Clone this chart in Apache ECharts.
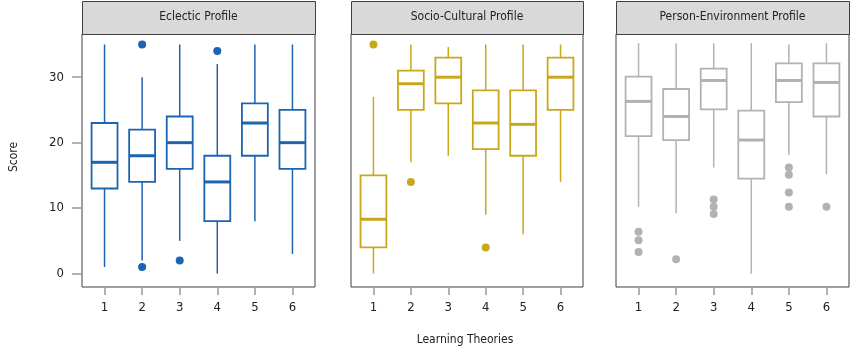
<!DOCTYPE html>
<html>
<head>
<meta charset="utf-8">
<script src="https://cdn.jsdelivr.net/npm/echarts@6/dist/echarts.min.js"></script>
<style>
  html, body { margin: 0; padding: 0; background: #fff; }
  #main { width: 850px; height: 347px; }
</style>
</head>
<body>
<div id="main"></div>
<script>
// learning theories 1..6
var theories = [1, 2, 3, 4, 5, 6];
var scoreTicks = [0, 10, 20, 30];
var panelTitles = ["Eclectic Profile", "Socio-Cultural Profile", "Person-Environment Profile"];

// [theory, whisker low, Q1, median, Q3, whisker high]
var eclecticBox = [
  [1, 1, 13, 17, 23, 35],
  [2, 2, 14, 18, 22, 30],
  [3, 5, 16, 20, 24, 35],
  [4, 0, 8, 14, 18, 32],
  [5, 8, 18, 23, 26, 35],
  [6, 3, 16, 20, 25, 35]
];
var eclecticOut = [[2, 35], [2, 1], [3, 2], [4, 34]];

var socioBox = [
  [1, 0, 4, 8.3, 15, 27],
  [2, 17, 25, 29, 31, 35],
  [3, 18, 26, 30, 33, 34.6],
  [4, 9, 19, 23, 28, 35],
  [5, 6, 18, 22.8, 28, 35],
  [6, 14, 25, 30, 33, 35]
];
var socioOut = [[1, 35], [2, 14], [4, 4]];

var personBox = [
  [1, 10.2, 21, 26.3, 30.1, 35.2],
  [2, 9.2, 20.4, 24, 28.2, 35.2],
  [3, 16.2, 25.1, 29.5, 31.3, 35.2],
  [4, 0, 14.5, 20.4, 24.9, 35.2],
  [5, 18.1, 26.2, 29.5, 32.1, 35],
  [6, 15.2, 24, 29.2, 32.1, 35.2]
];
var personOut = [
  [1, 6.4], [1, 5.1], [1, 3.3],
  [2, 2.2],
  [3, 11.3], [3, 10.2], [3, 9.1],
  [5, 16.2], [5, 15.1], [5, 12.4], [5, 10.2],
  [6, 10.2]
];

var colors = ["#1c64b0", "#c9a71a", "#b2b2b2"];
var boxes = [eclecticBox, socioBox, personBox];
var outs = [eclecticOut, socioOut, personOut];

var FONT = "'DejaVu Sans Condensed', 'DejaVu Sans', sans-serif";
var panels = [
  { left: 82, width: 233 },
  { left: 351, width: 232 },
  { left: 616, width: 233 }
];
var plotTop = 34, plotHeight = 253;

var chart = echarts.init(document.getElementById("main"));

function makeRender(color) {
  return function (params, api) {
    var x = api.value(0);
    var lo = api.coord([x, api.value(1)]);
    var q1 = api.coord([x, api.value(2)]);
    var md = api.coord([x, api.value(3)]);
    var q3 = api.coord([x, api.value(4)]);
    var hi = api.coord([x, api.value(5)]);
    var half = api.size([0.69, 0])[0] / 2;
    return {
      type: "group",
      children: [
        { type: "line", shape: { x1: lo[0], y1: lo[1], x2: q1[0], y2: q1[1] }, style: { stroke: color, lineWidth: 1.5 } },
        { type: "line", shape: { x1: q3[0], y1: q3[1], x2: hi[0], y2: hi[1] }, style: { stroke: color, lineWidth: 1.5 } },
        { type: "rect", shape: { x: q3[0] - half, y: q3[1], width: half * 2, height: q1[1] - q3[1] },
          style: { fill: "#fff", stroke: color, lineWidth: 1.8 } },
        { type: "line", shape: { x1: md[0] - half, y1: md[1], x2: md[0] + half, y2: md[1] }, style: { stroke: color, lineWidth: 3 } }
      ]
    };
  };
}

var grids = [], xAxes = [], yAxes = [], series = [], graphics = [];
panels.forEach(function (p, i) {
  grids.push({
    left: p.left, top: plotTop, width: p.width, height: plotHeight,
    show: true, borderColor: "#404040", borderWidth: 1, backgroundColor: "#fff"
  });
  xAxes.push({
    type: "value", gridIndex: i, min: 0.4, max: 6.6, position: "bottom",
    splitLine: { show: false },
    axisLine: { show: false, onZero: false },
    axisTick: { show: true, length: 8, lineStyle: { color: "#999", width: 1.5 }, customValues: theories },
    axisLabel: { show: true, margin: 14, color: "#222", fontSize: 13, fontFamily: FONT, customValues: theories }
  });
  yAxes.push({
    type: "value", gridIndex: i, min: -2.05, max: 36.6, position: "left",
    splitLine: { show: false },
    axisLine: { show: false, onZero: false },
    axisTick: { show: i === 0, length: 10, lineStyle: { color: "#999", width: 1.5 }, customValues: scoreTicks },
    axisLabel: { show: i === 0, margin: 18, color: "#222", fontSize: 13, fontFamily: FONT, customValues: scoreTicks }
  });
  series.push({
    type: "custom", xAxisIndex: i, yAxisIndex: i,
    renderItem: makeRender(colors[i]),
    encode: { x: 0, y: [1, 2, 3, 4, 5] },
    data: boxes[i],
    z: 2
  });
  series.push({
    type: "scatter", xAxisIndex: i, yAxisIndex: i,
    symbolSize: 8,
    itemStyle: { color: colors[i], opacity: 1 },
    data: outs[i],
    z: 3
  });
  // strip header
  graphics.push({
    type: "rect", left: p.left, top: 1,
    shape: { width: p.width, height: plotTop - 1 },
    style: { fill: "#d9d9d9", stroke: "#404040", lineWidth: 1 }
  });
  graphics.push({
    type: "text", x: p.left + p.width / 2, y: 17,
    style: { text: panelTitles[i], fill: "#222", font: "12px " + FONT, textAlign: "center", textVerticalAlign: "middle" }
  });
});

graphics.push({
  type: "text", x: 14, y: 157, rotation: Math.PI / 2,
  style: { text: "Score", fill: "#222", font: "12px " + FONT, textAlign: "center", textVerticalAlign: "middle" }
});
graphics.push({
  type: "text", x: 465, y: 340,
  style: { text: "Learning Theories", fill: "#222", font: "12px " + FONT, textAlign: "center", textVerticalAlign: "middle" }
});

chart.setOption({
  animation: false,
  grid: grids,
  xAxis: xAxes,
  yAxis: yAxes,
  series: series,
  graphic: graphics
});
</script>
</body>
</html>
